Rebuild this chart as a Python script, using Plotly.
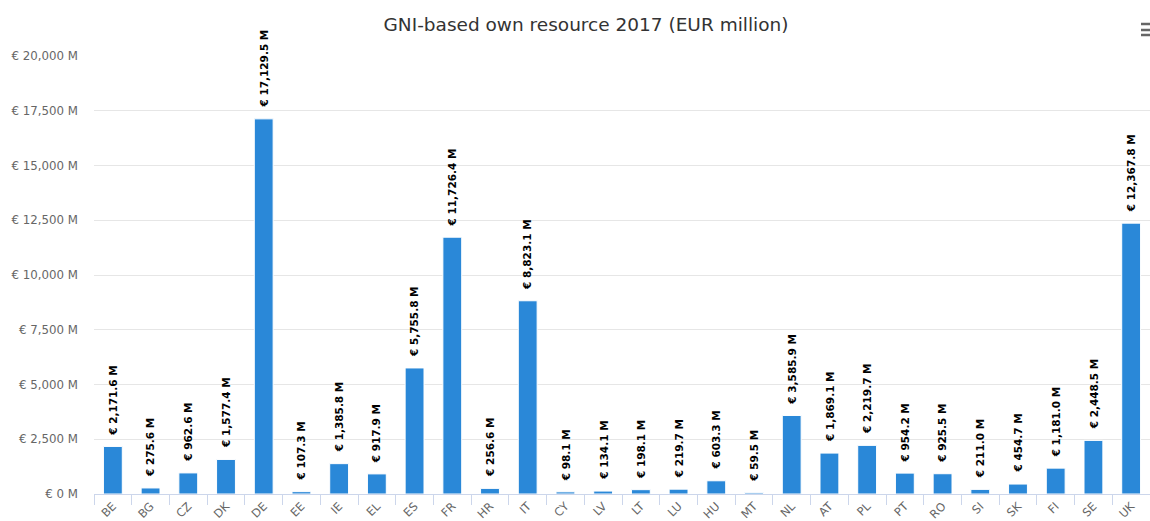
import plotly.graph_objects as go

# Member states and their 2017 GNI-based own resource (EUR million)
countries = ["BE", "BG", "CZ", "DK", "DE", "EE", "IE", "EL", "ES", "FR",
             "HR", "IT", "CY", "LV", "LT", "LU", "HU", "MT", "NL", "AT",
             "PL", "PT", "RO", "SI", "SK", "FI", "SE", "UK"]
gni_resource = [2171.6, 275.6, 962.6, 1577.4, 17129.5, 107.3, 1385.8, 917.9,
                5755.8, 11726.4, 256.6, 8823.1, 98.1, 134.1, 198.1, 219.7,
                603.3, 59.5, 3585.9, 1869.1, 2219.7, 954.2, 925.5, 211.0,
                454.7, 1181.0, 2448.5, 12367.8]
y_ticks = [0, 2500, 5000, 7500, 10000, 12500, 15000, 17500, 20000]
y_tick_text = ["€ {:,.0f} M".format(v) for v in y_ticks]

BAR_COLOR = "#2a88d8"
FONT = "DejaVu Sans"

fig = go.Figure()
fig.add_trace(go.Bar(
    x=countries,
    y=gni_resource,
    marker=dict(color=BAR_COLOR, line=dict(color="white", width=1)),
    hovertemplate="%{x}: € %{y:,.1f} M<extra></extra>",
))

# Rotated value labels above each bar
for c, v in zip(countries, gni_resource):
    fig.add_annotation(
        x=c, y=v, xref="x", yref="y",
        text="€ {:,.1f} M".format(v),
        textangle=-90, showarrow=False,
        xanchor="center", yanchor="bottom", yshift=9,
        font=dict(family=FONT, size=10.5, color="#000000", weight="bold"),
    )

# Context-menu icon (three bars) in the top-right corner
L, R, T, B = 94, 0, 56, 27
W, H = 1150, 521
pw, ph = W - L - R, H - T - B
for yy in (24, 30, 35):
    fig.add_shape(
        type="line", xref="paper", yref="paper",
        x0=(1141 - L) / pw, x1=(1151 - L) / pw,
        y0=(H - B - yy) / ph, y1=(H - B - yy) / ph,
        line=dict(color="#666666", width=2.5),
    )

fig.update_layout(
    width=W, height=H,
    margin=dict(l=L, r=R, t=T, b=B, autoexpand=False),
    paper_bgcolor="white", plot_bgcolor="white",
    bargap=0.5,
    showlegend=False,
    title=dict(
        text="GNI-based own resource 2017 (EUR million)",
        x=586 / W, xref="container", xanchor="center",
        y=1 - 25 / H, yref="container", yanchor="middle",
        font=dict(family=FONT, size=18.5, color="#333333"),
    ),
    xaxis=dict(
        type="category",
        showgrid=False,
        showline=True, linecolor="#ccd6eb", linewidth=1,
        ticks="outside", tickson="boundaries", ticklen=10,
        tickcolor="#ccd6eb", tickwidth=1,
        tickangle=-45,
        tickfont=dict(family=FONT, size=11.5, color="#666666"),
        automargin=False,
    ),
    yaxis=dict(
        range=[0, 20000],
        tickvals=y_ticks, ticktext=y_tick_text,
        showgrid=True, gridcolor="#e6e6e6", gridwidth=1,
        zeroline=False, showline=False,
        ticks="", ticklabelstandoff=15,
        tickfont=dict(family=FONT, size=11.8, color="#666666"),
        automargin=False,
    ),
)

fig.write_html("out.html")
